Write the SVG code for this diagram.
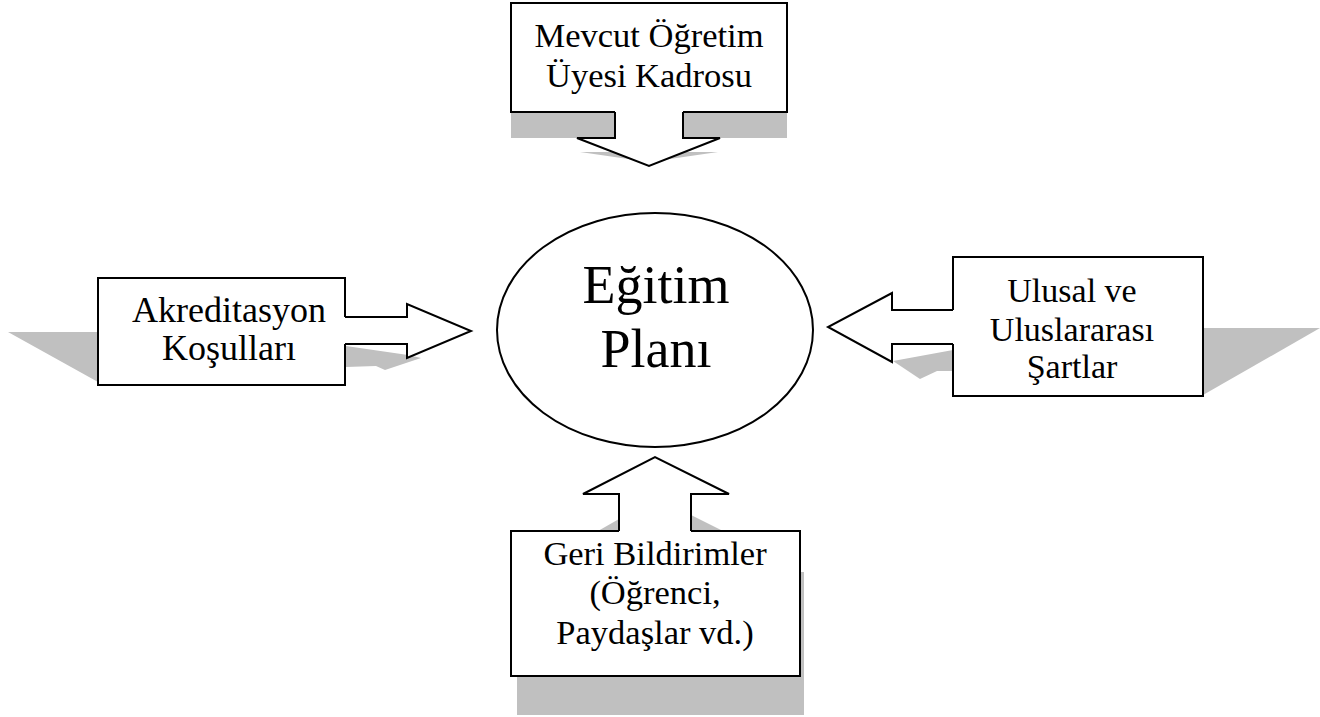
<svg xmlns="http://www.w3.org/2000/svg" width="1320" height="717" viewBox="0 0 1320 717">
<style>
.sh{fill:#c0c0c0;stroke:none}
.ol{fill:#fff;stroke:#000;stroke-width:2;stroke-linejoin:miter}
.t{font-family:"Liberation Serif","Times New Roman",serif;fill:#000;text-anchor:middle}
</style>
<rect width="1320" height="717" fill="#fff"/>
<g id="shadows">
<rect class="sh" x="511" y="112" width="276" height="26"/>
<polygon class="sh" points="580,152 718,152 649,162"/>
<polygon class="sh" points="8,332 98,332 98,382"/>
<polygon class="sh" points="346,346 408,355 421,358 385,370 376,366 346,367"/>
<polygon class="sh" points="1203,328 1320,328 1203,395"/>
<polygon class="sh" points="893,361 953,350 953,371 937,371 920,379"/>
<polygon class="sh" points="598,531 619,519 619,531"/>
<polygon class="sh" points="691,515 723,531 691,531"/>
<rect class="sh" x="800" y="572" width="4" height="143"/>
<rect class="sh" x="517" y="676" width="287" height="39"/>
</g>
<g id="connectors">
<path class="ol" d="M615,112 V138 H577 L649,166 L720,138 H683 V112"/>
<path class="ol" d="M345,317 H407 V304 L471,331 L407,358 V344 H345"/>
<path class="ol" d="M953,310 H892 V293 L828,327 L892,362 V344 H953"/>
<path class="ol" d="M619,531 V494 H583 L655,457 L729,494 H691 V531"/>
</g>
<g id="plan">
<ellipse cx="655" cy="330" rx="158" ry="117" fill="#fff" stroke="#000" stroke-width="2"/>
<text class="t" x="656" y="303" font-size="54">Eğitim</text>
<text class="t" x="656" y="367" font-size="54">Planı</text>
</g>
<g id="faculty">
<path class="ol" d="M615,112 H511 V3 H787 V112 H683"/>
<text class="t" x="649" y="47" font-size="34.5">Mevcut Öğretim</text>
<text class="t" x="649" y="87" font-size="34.5">Üyesi Kadrosu</text>
</g>
<g id="accreditation">
<path class="ol" d="M345,317 V278 H98 V385 H345 V344"/>
<text class="t" x="229" y="322" font-size="36">Akreditasyon</text>
<text class="t" x="229" y="360" font-size="36">Koşulları</text>
</g>
<g id="national">
<path class="ol" d="M953,310 V257 H1203 V396 H953 V344"/>
<text class="t" x="1072" y="302" font-size="34">Ulusal ve</text>
<text class="t" x="1072" y="341" font-size="34">Uluslararası</text>
<text class="t" x="1072" y="378" font-size="34">Şartlar</text>
</g>
<g id="feedback">
<path class="ol" d="M619,531 H511 V676 H800 V531 H691"/>
<text class="t" x="655" y="565" font-size="34.5">Geri Bildirimler</text>
<text class="t" x="655" y="604" font-size="34.5">(Öğrenci,</text>
<text class="t" x="655" y="644" font-size="34.5">Paydaşlar vd.)</text>
</g>
</svg>
